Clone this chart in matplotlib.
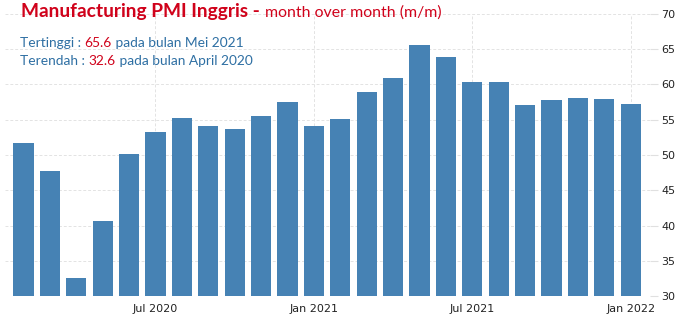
import matplotlib
matplotlib.use("Agg")
import matplotlib.pyplot as plt

months = ["Feb 2020", "Mar 2020", "Apr 2020", "May 2020", "Jun 2020", "Jul 2020",
          "Aug 2020", "Sep 2020", "Oct 2020", "Nov 2020", "Dec 2020", "Jan 2021",
          "Feb 2021", "Mar 2021", "Apr 2021", "May 2021", "Jun 2021", "Jul 2021",
          "Aug 2021", "Sep 2021", "Oct 2021", "Nov 2021", "Dec 2021", "Jan 2022"]
pmi = [51.7, 47.8, 32.6, 40.7, 50.1, 53.3, 55.2, 54.1, 53.7, 55.6, 57.5, 54.1,
       55.1, 58.9, 60.9, 65.6, 63.9, 60.4, 60.3, 57.1, 57.8, 58.1, 57.9, 57.3]
tick_labels = ["Jul 2020", "Jan 2021", "Jul 2021", "Jan 2022"]
yticks = [30, 35, 40, 45, 50, 55, 60, 65, 70]

bar_col = "#4682b4"
red = "#d0021b"
blue = "#2e6fa3"

fig = plt.figure(figsize=(6.76, 3.19), dpi=100)
ax = fig.add_axes([5/676, 23/319, 645/676, 282/319])

x = list(range(len(pmi)))
ax.bar(x, pmi, width=0.76, color=bar_col, zorder=3)
ax.set_ylim(30, 70)
ax.set_xlim(-0.70, 23.73)

ax.set_xticks([months.index(m) for m in tick_labels])
ax.set_xticklabels(tick_labels)
ax.set_yticks(yticks)
ax.yaxis.tick_right()
ax.tick_params(axis="y", length=6, color="#e0e0e0", labelsize=8, labelcolor="#222222", pad=2)
ax.tick_params(axis="x", length=0, labelsize=8, labelcolor="#222222", pad=6)
ax.grid(True, axis="both", color="#e3e3e3", linestyle=(0, (3, 2)), linewidth=0.7, zorder=0)
for s in ax.spines.values():
    s.set_visible(False)


def put_line(pieces, x0, y0, **kw):
    fig.canvas.draw()
    r = fig.canvas.get_renderer()
    xx = x0
    for txt, col, extra in pieces:
        t = fig.text(xx / 676, 1 - y0 / 319, txt, color=col, va="baseline", ha="left",
                     family="Lato", **kw, **extra)
        bb = t.get_window_extent(renderer=r)
        xx += bb.width


put_line([("Manufacturing PMI Inggris", red, {"fontweight": "bold", "fontsize": 13.8}),
          (" - ", red, {"fontweight": "bold", "fontsize": 13.8}),
          ("month over month (m/m)", red, {"fontsize": 11.4})], 21, 17)
put_line([("Tertinggi : ", blue, {}), ("65.6", red, {}),
          (" pada bulan Mei 2021", blue, {})], 20, 47, fontsize=9.9)
put_line([("Terendah : ", blue, {}), ("32.6", red, {}),
          (" pada bulan April 2020", blue, {})], 20, 65, fontsize=9.9)

fig.savefig("out.png", dpi=100)
